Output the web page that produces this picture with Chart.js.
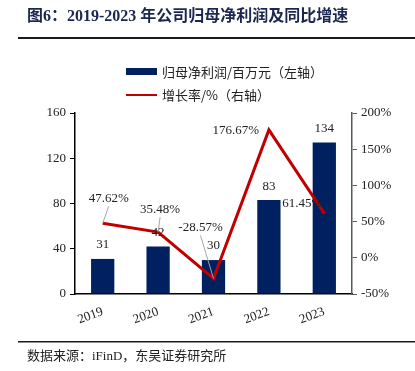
<!DOCTYPE html>
<html>
<head>
<meta charset="utf-8">
<script src="https://cdn.jsdelivr.net/npm/chart.js@4/dist/chart.umd.min.js"></script>
<style>
  body { margin: 0; background: #fff; }
  canvas { display: block; }
</style>
</head>
<body>
<canvas id="profitChart" width="415" height="371"></canvas>
<script>
// chart data
const years = ['2019', '2020', '2021', '2022', '2023'];
const netProfit = [31, 42, 30, 83, 134];          // 百万元
const growthRate = [47.62, 35.48, -28.57, 176.67, 61.45]; // %
const leftTicks = [0, 40, 80, 120, 160];
const rightTicks = [-50, 0, 50, 100, 150, 200];

const serif = '"Liberation Serif", "DejaVu Serif", serif';
const mixed = '"Liberation Serif", "Noto Sans CJK SC", serif';
const cjk = '"Noto Sans CJK SC", sans-serif';

// where each growth label sits relative to its point (dx, dy, leader line?)
const growthLabelPos = [
  { dx: 6, dy: -25, leader: true },
  { dx: 2, dy: -23, leader: true },
  { dx: -13, dy: -51, leader: true },
  { dx: -33, dy: 1, leader: false },
  { dx: -22, dy: -10, leader: false }
];

const decorPlugin = {
  id: 'decor',
  beforeDraw(chart) {
    const ctx = chart.ctx;
    ctx.save();
    ctx.fillStyle = '#fff';
    ctx.fillRect(0, 0, chart.width, chart.height);

    // title
    ctx.fillStyle = '#1b2750';
    ctx.font = 'bold 16px ' + mixed;
    ctx.textBaseline = 'middle';
    ctx.textAlign = 'left';
    ctx.fillText('图6：2019-2023 年公司归母净利润及同比增速', 27, 17);

    // rules
    ctx.fillStyle = '#1a1a1a';
    ctx.fillRect(18, 37, 397, 2);
    ctx.fillRect(18, 341, 397, 1.5);

    // source
    ctx.fillStyle = '#222';
    ctx.font = '13px ' + mixed;
    ctx.fillText('数据来源：iFinD，东吴证券研究所', 27, 357);

    // legend
    const ds = chart.data.datasets;
    ctx.font = '13px ' + cjk;
    ctx.fillStyle = ds[1].backgroundColor;
    ctx.fillRect(126, 68, 31, 7);
    ctx.fillStyle = '#222';
    ctx.fillText(ds[1].label, 162, 72);
    ctx.strokeStyle = ds[0].borderColor;
    ctx.lineWidth = 2;
    ctx.beginPath();
    ctx.moveTo(126, 95);
    ctx.lineTo(157, 95);
    ctx.stroke();
    ctx.fillText(ds[0].label, 162, 95);
    ctx.restore();
  },
  afterDatasetsDraw(chart) {
    const ctx = chart.ctx;
    ctx.save();
    ctx.font = '13px ' + serif;
    ctx.fillStyle = '#222';
    ctx.textAlign = 'center';
    ctx.textBaseline = 'middle';

    // bar values
    chart.getDatasetMeta(1).data.forEach((bar, i) => {
      ctx.fillText(String(netProfit[i]), bar.x, bar.y - 14);
    });

    // growth values
    chart.getDatasetMeta(0).data.forEach((pt, i) => {
      const p = growthLabelPos[i];
      const lx = pt.x + p.dx;
      const ly = pt.y + p.dy;
      if (p.leader) {
        ctx.strokeStyle = '#a6a6a6';
        ctx.lineWidth = 1;
        ctx.beginPath();
        ctx.moveTo(pt.x, pt.y);
        ctx.lineTo(lx, ly + 8);
        ctx.stroke();
      }
      ctx.fillText(growthRate[i].toFixed(2) + '%', lx, ly);
    });
    ctx.restore();
  }
};

const ctx = document.getElementById('profitChart').getContext('2d');
new Chart(ctx, {
  type: 'bar',
  data: {
    labels: years,
    datasets: [
      {
        type: 'line',
        label: '增长率/%（右轴）',
        data: growthRate,
        yAxisID: 'y1',
        borderColor: '#c00000',
        backgroundColor: '#c00000',
        borderWidth: 3,
        pointRadius: 0,
        tension: 0,
        order: 0
      },
      {
        type: 'bar',
        label: '归母净利润/百万元（左轴）',
        data: netProfit,
        yAxisID: 'y',
        backgroundColor: '#002060',
        categoryPercentage: 1,
        barPercentage: 0.42,
        order: 1
      }
    ]
  },
  options: {
    responsive: false,
    animation: false,
    layout: { padding: { top: 113, left: 0, right: 0, bottom: 0 } },
    plugins: {
      legend: { display: false },
      tooltip: { enabled: false }
    },
    scales: {
      x: {
        grid: { display: false },
        border: { display: true, color: '#000', width: 1.5 },
        ticks: {
          minRotation: 20,
          maxRotation: 20,
          padding: 2,
          color: '#222',
          font: { family: serif, size: 13 }
        },
        afterFit(scale) { scale.height = 77; }
      },
      y: {
        position: 'left',
        min: 0,
        max: 160,
        afterBuildTicks(scale) { scale.ticks = leftTicks.map(v => ({ value: v })); },
        grid: { display: true, drawOnChartArea: false, drawTicks: true, tickLength: 5, color: '#000' },
        border: { display: true, color: '#000', width: 1.5 },
        ticks: { color: '#222', padding: 4, font: { family: serif, size: 13 } },
        afterFit(scale) { scale.width = 75; }
      },
      y1: {
        position: 'right',
        min: -50,
        max: 200,
        afterBuildTicks(scale) { scale.ticks = rightTicks.map(v => ({ value: v })); },
        grid: { display: true, drawOnChartArea: false, drawTicks: true, tickLength: 5, color: '#595959' },
        border: { display: true, color: '#595959', width: 1.5 },
        ticks: {
          color: '#222',
          padding: 4,
          font: { family: serif, size: 13 },
          callback: v => v + '%'
        },
        afterFit(scale) { scale.width = 63; }
      }
    }
  },
  plugins: [decorPlugin]
});
</script>
</body>
</html>
